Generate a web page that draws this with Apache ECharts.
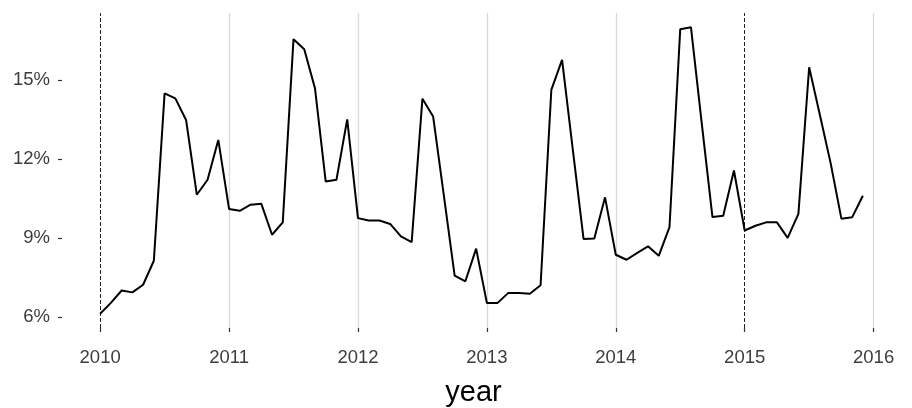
<!DOCTYPE html>
<html>
<head>
<meta charset="utf-8">
<script src="https://cdn.jsdelivr.net/npm/echarts@6/dist/echarts.min.js"></script>
<style>
html,body{margin:0;padding:0;background:#fff;}
#chart{width:912px;height:408px;}
</style>
</head>
<body>
<div id="chart"></div>
<script>
// Monthly values (percent), Jan 2010 .. Dec 2015
var startYear = 2010;
var values = [
  6.12, 6.53, 7.00, 6.93, 7.22, 8.13, 14.49, 14.30, 13.48, 10.64, 11.21, 12.72,
  10.10, 10.03, 10.26, 10.30, 9.12, 9.59, 16.55, 16.17, 14.68, 11.14, 11.21, 13.50,
  9.75, 9.66, 9.66, 9.53, 9.06, 8.84, 14.29, 13.61, 10.60, 7.57, 7.35, 8.59,
  6.53, 6.53, 6.91, 6.91, 6.88, 7.20, 14.62, 15.76, 12.35, 8.96, 8.98, 10.54,
  8.36, 8.17, 8.43, 8.68, 8.32, 9.41, 16.93, 17.00, 13.36, 9.79, 9.84, 11.56,
  9.28, 9.46, 9.59, 9.59, 9.00, 9.91, 15.48, 13.67, 11.84, 9.73, 9.78, 10.60
];
var xTicks = [2010, 2011, 2012, 2013, 2014, 2015, 2016];
var yTicks = [6, 9, 12, 15];
var greyLines = [2011, 2012, 2013, 2014, 2016];
var dashedLines = [2010, 2015];

var points = values.map(function (v, i) { return [startYear + i / 12, v]; });
var xs = points.map(function (p) { return p[0]; });
var xMinD = Math.min.apply(null, xs), xMaxD = Math.max.apply(null, xs);
var yMinD = Math.min.apply(null, values), yMaxD = Math.max.apply(null, values);
var xPad = (xMaxD - xMinD) * 0.05, yPad = (yMaxD - yMinD) * 0.05;

var chart = echarts.init(document.getElementById('chart'));
chart.setOption({
  animation: false,
  backgroundColor: '#ffffff',
  grid: { left: 62, right: 11, top: 13, bottom: 80, containLabel: false, outerBoundsMode: 'none' },
  xAxis: {
    type: 'value',
    min: xMinD - xPad,
    max: xMaxD + xPad,
    name: 'year',
    nameLocation: 'middle',
    nameGap: 50,
    nameTextStyle: { fontFamily: 'Liberation Sans', fontSize: 29, color: '#000', padding: [0, 16, 0, 0] },
    axisLine: { show: false },
    axisTick: { show: true, customValues: xTicks, length: 4, lineStyle: { color: '#333', width: 1.2 } },
    axisLabel: {
      customValues: xTicks, margin: 20,
      fontFamily: 'Liberation Sans', fontSize: 18.5, color: '#3d3d3d',
      formatter: function (v) { return String(Math.round(v)); }
    },
    splitLine: { show: false }
  },
  yAxis: {
    type: 'value',
    min: yMinD - yPad,
    max: yMaxD + yPad,
    axisLine: { show: false },
    axisTick: { show: true, customValues: yTicks, length: 4, lineStyle: { color: '#333', width: 1.2 } },
    axisLabel: {
      customValues: yTicks, margin: 12,
      fontFamily: 'Liberation Sans', fontSize: 18.5, color: '#3d3d3d',
      formatter: function (v) { return Math.round(v) + '%'; }
    },
    splitLine: { show: false }
  },
  series: [
    {
      type: 'line',
      data: points,
      showSymbol: false,
      lineStyle: { color: '#000', width: 2 },
      z: 5,
      markLine: {
        silent: true,
        symbol: 'none',
        label: { show: false },
        animation: false,
        data: greyLines.map(function (x) {
          return { xAxis: x, lineStyle: { color: '#d9d9d9', width: 1.3, type: 'solid' } };
        }).concat(dashedLines.map(function (x) {
          return { xAxis: x, lineStyle: { color: '#222', width: 1, type: [4, 2] } };
        }))
      }
    }
  ]
});
</script>
</body>
</html>
